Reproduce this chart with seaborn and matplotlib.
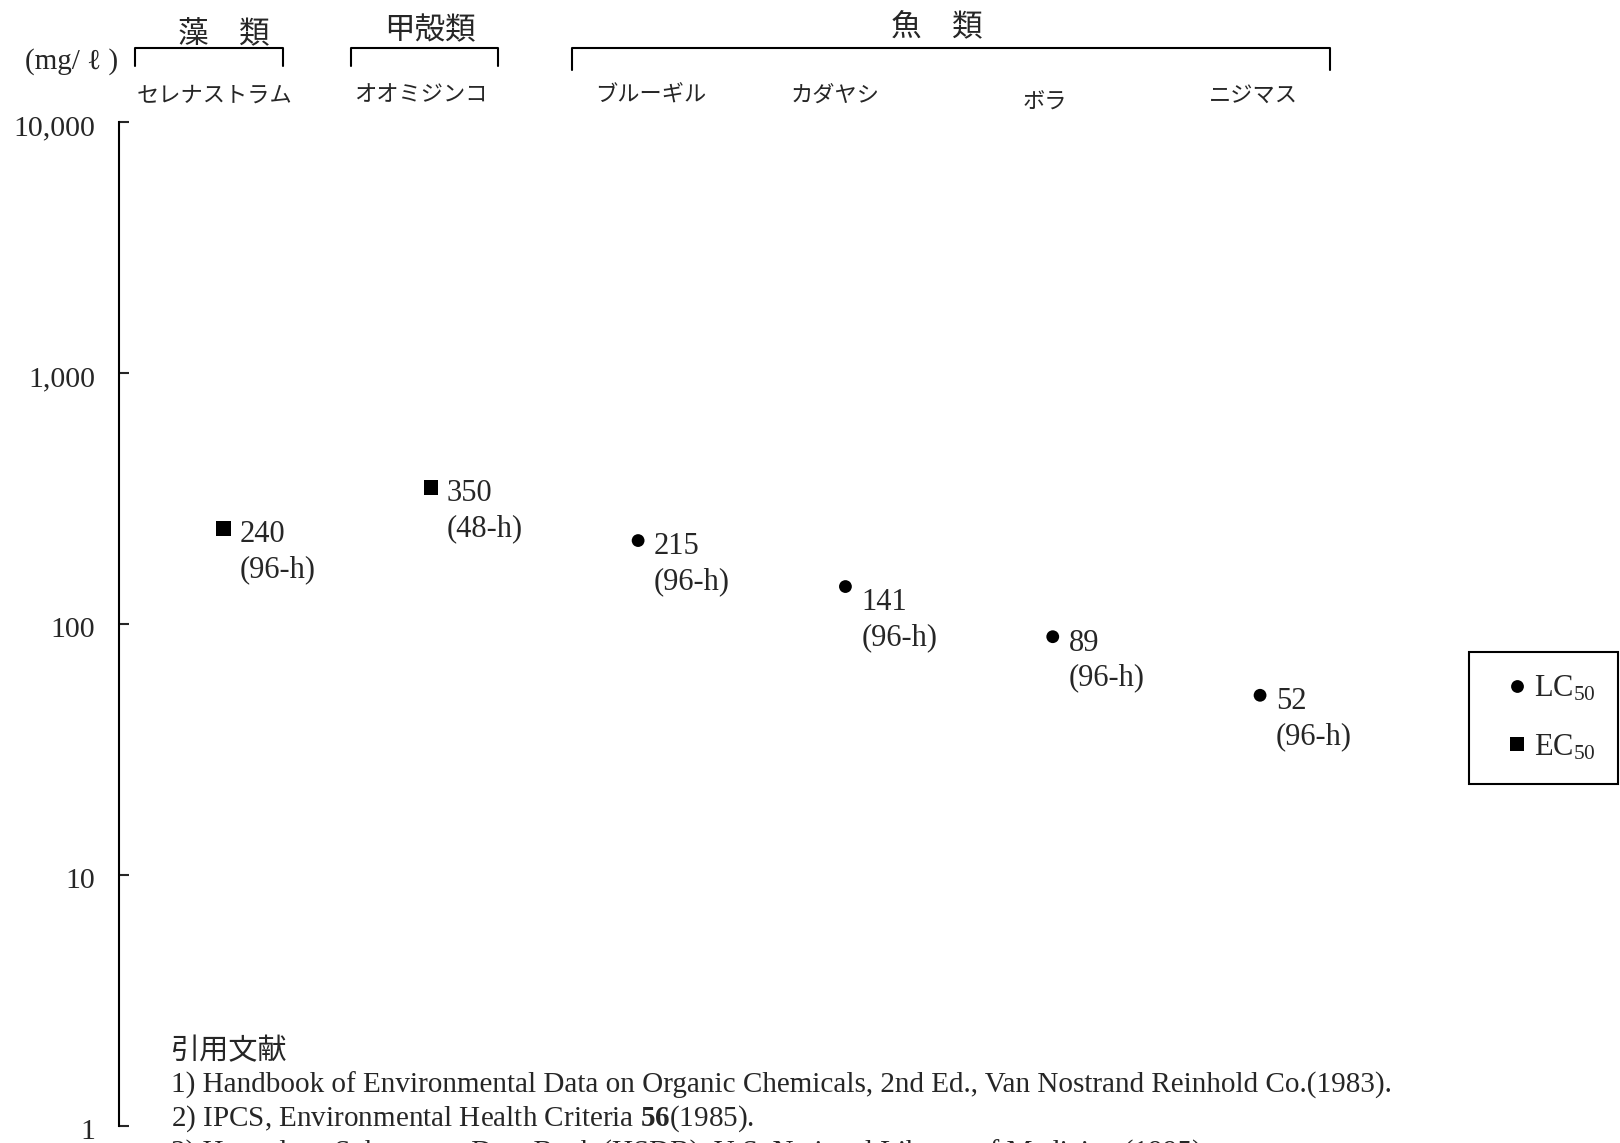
import numpy as np
import pandas as pd
import matplotlib
matplotlib.use("Agg")
import matplotlib.pyplot as plt
from matplotlib.lines import Line2D
from matplotlib.ticker import FixedLocator, NullLocator
from matplotlib.transforms import blended_transform_factory, ScaledTranslation
import seaborn as sns

# ---- data -------------------------------------------------------------
species = ["セレナストラム", "オオミジンコ", "ブルーギル", "カダヤシ", "ボラ", "ニジマス"]
values = [240, 350, 215, 141, 89, 52]
LC = "LC$_{50}$"
EC = "EC$_{50}$"
endpoints = [EC, EC, LC, LC, LC, LC]
durations = ["96-h", "48-h", "96-h", "96-h", "96-h", "96-h"]
groups = ["藻　類", "甲殻類", "魚　類"]
ytick_values = [1, 10, 100, 1000, 10000]
ytick_labels = ["1", "10", "100", "1,000", "10,000"]
unit_label = "(mg/ ℓ )"
ref_heading = "引用文献"
references = [
    "1) Handbook of Environmental Data on Organic Chemicals, 2nd Ed., Van Nostrand Reinhold Co.(1983).",
    "2) IPCS, Environmental Health Criteria $\\mathbf{56}$(1985).",
    "3) Hazardous Substances Data Bank (HSDB), U.S. National Library of Medicine (1995).",
]

# ---- layout (pixels / data units) --------------------------------------
W, H = 1620, 1143
bracket_spans = [(-0.427, 0.287), (0.616, 1.325), (1.683, 5.336)]
bracket_leg_bottom = [66, 66, 70]
bracket_top = 48
group_center = [0.002, 0.996, 3.442]
group_y = [35, 31, 27]
species_dx = [-9, -10, 13, -10, -8, -7]
species_y = [95, 95, 95, 95, 102, 95]
label_drop = [0, 0, 0, 10, 0, 0]

sns.set_style("white")
plt.rcParams["font.family"] = ["Liberation Serif", "Noto Sans CJK JP", "DejaVu Sans"]
plt.rcParams["mathtext.fontset"] = "custom"
plt.rcParams["mathtext.rm"] = "Liberation Serif"
plt.rcParams["mathtext.it"] = "Liberation Serif:italic"
plt.rcParams["mathtext.bf"] = "Liberation Serif:bold"
JP = ["Noto Sans CJK JP", "DejaVu Sans"]


def fx(px):
    return px / W


def fy(py):
    return 1 - py / H


fig = plt.figure(figsize=(W / 100, H / 100), dpi=100)
ax = fig.add_axes([fx(119), fy(1126), (1400 - 119) / W, (1126 - 122) / H])

df = pd.DataFrame({"pos": np.arange(len(species)), "value": values, "endpoint": endpoints})
sns.scatterplot(
    data=df, x="pos", y="value",
    style="endpoint", size="endpoint",
    style_order=[LC, EC], size_order=[LC, EC],
    markers={LC: "o", EC: "s"}, sizes={LC: 85, EC: 105},
    color="black", linewidth=0, ax=ax, zorder=3,
)

ax.set_yscale("log")
ax.set_ylim(1, 10000)
ax.set_xlim(-0.504, 5.675)
ax.yaxis.set_major_locator(FixedLocator(ytick_values))
ax.yaxis.set_minor_locator(NullLocator())
ax.set_yticks(ytick_values, ytick_labels)
ax.tick_params(axis="y", direction="in", length=7.2, width=1.5, pad=17,
               labelsize=21.5, left=True)
shift = ScaledTranslation(0, -3 / 100, fig.dpi_scale_trans)
for lbl in ax.get_yticklabels():
    lbl.set_transform(lbl.get_transform() + shift)
ax.set_xticks([])
ax.set_xlabel("")
ax.set_ylabel("")
for side in ["top", "right", "bottom"]:
    ax.spines[side].set_visible(False)
ax.spines["left"].set_linewidth(1.5)
ax.spines["left"].set_color("black")

# value and exposure-time labels beside each point
for i, (v, d) in enumerate(zip(values, durations)):
    drop = label_drop[i] * 0.72
    ax.annotate(f"{v}", (i, v), xytext=(11.5, -10 - drop), textcoords="offset points",
                ha="left", va="baseline", fontsize=22)
    ax.annotate(f"({d})", (i, v), xytext=(11.5, -35 - drop), textcoords="offset points",
                ha="left", va="baseline", fontsize=22)

# taxon group brackets and headings
trans = blended_transform_factory(ax.transData, fig.transFigure)
for (x0, x1), yb, name, xc, yc in zip(bracket_spans, bracket_leg_bottom, groups,
                                      group_center, group_y):
    fig.add_artist(Line2D([x0, x0, x1, x1], [fy(yb), fy(bracket_top), fy(bracket_top), fy(yb)],
                          transform=trans, color="black", lw=1.5, clip_on=False))
    fig.text(xc, fy(yc), name, transform=trans, ha="center", va="center",
             fontsize=22, family=JP)

# species names
for i, name in enumerate(species):
    x_disp = ax.transData.transform((i, 1))[0] + species_dx[i]
    fig.text(fx(x_disp), fy(species_y[i]), name, ha="center", va="center",
             fontsize=16, family=JP)

fig.text(fx(72), fy(62), unit_label, ha="center", va="center", fontsize=21,
         family=["Liberation Serif", "Noto Sans CJK JP", "DejaVu Sans"])

# references
fig.text(fx(171), fy(1051), ref_heading, ha="left", va="center", fontsize=21, family=JP)
for k, line in enumerate(references):
    fig.text(fx(171), fy(1085 + 34 * k), line, ha="left", va="center", fontsize=21)

# legend
sns.move_legend(ax, "upper left", bbox_to_anchor=(fx(1469), fy(652)),
                bbox_transform=fig.transFigure, title=None, frameon=True,
                fancybox=False, edgecolor="black", framealpha=1, fontsize=22,
                borderpad=0.72, labelspacing=0.95, handletextpad=-0.32,
                handlelength=1.73, borderaxespad=0)
ax.get_legend().get_frame().set_linewidth(1.5)

fig.savefig("out.png", dpi=100)
